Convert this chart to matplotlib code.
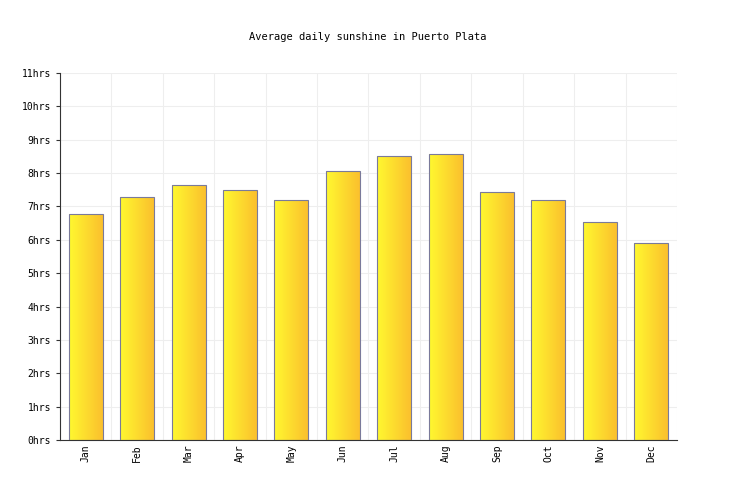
import matplotlib
matplotlib.use("Agg")
import matplotlib.pyplot as plt
import numpy as np
from matplotlib.colors import LinearSegmentedColormap

months = ["Jan", "Feb", "Mar", "Apr", "May", "Jun", "Jul", "Aug", "Sep", "Oct", "Nov", "Dec"]
sunshine = [6.77, 7.28, 7.64, 7.49, 7.19, 8.06, 8.51, 8.57, 7.43, 7.19, 6.53, 5.90]
y_ticks = list(range(0, 12))
y_labels = [f"{v}hrs" for v in y_ticks]

plt.rcParams["font.family"] = ["DejaVu Sans Mono"]
plt.rcParams["font.size"] = 7

fig = plt.figure(figsize=(7.36, 5.0), dpi=100)
ax = fig.add_axes([60 / 736, 60 / 500, 617 / 736, 367 / 500])

cmap = LinearSegmentedColormap.from_list("sun", ["#fff830", "#fbc02d"])
grad = np.linspace(0, 1, 64).reshape(1, -1)
x = np.arange(len(months))
width = 0.66
bars = ax.bar(x, sunshine, width=width, color="none", edgecolor="#7a7a9a", linewidth=0.8, zorder=3)
for b in bars:
    x0, w, h = b.get_x(), b.get_width(), b.get_height()
    im = ax.imshow(grad, cmap=cmap, aspect="auto", extent=[x0, x0 + w, 0, h], zorder=2)
    im.set_clip_path(b)

ax.set_xlim(-0.5, len(months) - 0.5)
ax.set_ylim(0, 11)
ax.set_xticks(x)
ax.set_xticklabels(months, rotation=90)
ax.set_yticks(y_ticks)
ax.set_yticklabels(y_labels)
ax.set_xticks(np.arange(-0.5, len(months)), minor=True)
ax.grid(True, which="minor", axis="x", color="#eeeeee", linewidth=0.8, zorder=0)
ax.grid(True, which="major", axis="y", color="#eeeeee", linewidth=0.8, zorder=0)
ax.tick_params(axis="x", which="both", length=0)
ax.tick_params(axis="y", length=3, color="#333333")
for side in ["top", "right"]:
    ax.spines[side].set_visible(False)
ax.spines["left"].set_color("#333333")
ax.spines["bottom"].set_color("#333333")

fig.text(0.5, 1 - 37 / 500, "Average daily sunshine in Puerto Plata", ha="center", va="center", fontsize=7.5)
fig.savefig("out.png", dpi=100)
